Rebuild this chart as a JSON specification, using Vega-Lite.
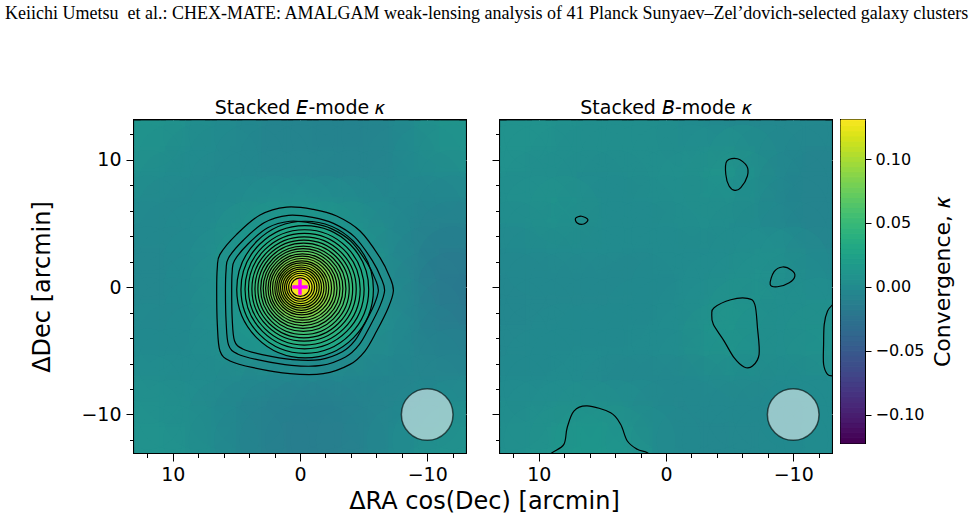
{
  "$schema": "https://vega.github.io/schema/vega-lite/v6.json",
  "background": "white",
  "padding": {"left": 5, "top": 4, "right": 5, "bottom": 5},
  "title": {
    "text": "Keiichi Umetsu\u00a0 et al.: CHEX-MATE: AMALGAM weak-lensing analysis of 41 Planck Sunyaev–Zel’dovich-selected galaxy clusters",
    "anchor": "start", "frame": "group", "font": "Liberation Serif", "fontSize": 18,
    "fontWeight": "normal", "color": "black", "offset": 75, "dx": -129
  },
  "datasets": {
    "grid": [
      {"p":"E","x":12,"y":12,"k":0.008},{"p":"E","x":10,"y":12,"k":0.005},{"p":"E","x":8,"y":12,"k":0.002},{"p":"E","x":6,"y":12,"k":0},{"p":"E","x":4,"y":12,"k":-0.003},{"p":"E","x":2,"y":12,"k":-0.006},{"p":"E","x":0,"y":12,"k":-0.008},{"p":"E","x":-2,"y":12,"k":-0.01},{"p":"E","x":-4,"y":12,"k":-0.01},{"p":"E","x":-6,"y":12,"k":-0.008},{"p":"E","x":-8,"y":12,"k":-0.003},{"p":"E","x":-10,"y":12,"k":0.003},{"p":"E","x":-12,"y":12,"k":0.008},
      {"p":"E","x":12,"y":10,"k":0.006},{"p":"E","x":10,"y":10,"k":0.003},{"p":"E","x":8,"y":10,"k":0},{"p":"E","x":6,"y":10,"k":-0.002},{"p":"E","x":4,"y":10,"k":-0.004},{"p":"E","x":2,"y":10,"k":-0.006},{"p":"E","x":0,"y":10,"k":-0.008},{"p":"E","x":-2,"y":10,"k":-0.009},{"p":"E","x":-4,"y":10,"k":-0.009},{"p":"E","x":-6,"y":10,"k":-0.007},{"p":"E","x":-8,"y":10,"k":-0.003},{"p":"E","x":-10,"y":10,"k":0.002},{"p":"E","x":-12,"y":10,"k":0.005},
      {"p":"E","x":12,"y":8,"k":0.003},{"p":"E","x":10,"y":8,"k":0},{"p":"E","x":8,"y":8,"k":-0.002},{"p":"E","x":6,"y":8,"k":-0.003},{"p":"E","x":4,"y":8,"k":-0.003},{"p":"E","x":2,"y":8,"k":-0.003},{"p":"E","x":0,"y":8,"k":-0.004},{"p":"E","x":-2,"y":8,"k":-0.005},{"p":"E","x":-4,"y":8,"k":-0.006},{"p":"E","x":-6,"y":8,"k":-0.006},{"p":"E","x":-8,"y":8,"k":-0.004},{"p":"E","x":-10,"y":8,"k":-0.002},{"p":"E","x":-12,"y":8,"k":0},
      {"p":"E","x":12,"y":6,"k":0},{"p":"E","x":10,"y":6,"k":-0.003},{"p":"E","x":8,"y":6,"k":-0.003},{"p":"E","x":6,"y":6,"k":-0.001},{"p":"E","x":4,"y":6,"k":0.002},{"p":"E","x":2,"y":6,"k":0.004},{"p":"E","x":0,"y":6,"k":0.005},{"p":"E","x":-2,"y":6,"k":0.004},{"p":"E","x":-4,"y":6,"k":0.001},{"p":"E","x":-6,"y":6,"k":-0.002},{"p":"E","x":-8,"y":6,"k":-0.005},{"p":"E","x":-10,"y":6,"k":-0.006},{"p":"E","x":-12,"y":6,"k":-0.006},
      {"p":"E","x":12,"y":4,"k":-0.003},{"p":"E","x":10,"y":4,"k":-0.004},{"p":"E","x":8,"y":4,"k":-0.002},{"p":"E","x":6,"y":4,"k":0.003},{"p":"E","x":4,"y":4,"k":0.008},{"p":"E","x":2,"y":4,"k":0.012},{"p":"E","x":0,"y":4,"k":0.013},{"p":"E","x":-2,"y":4,"k":0.012},{"p":"E","x":-4,"y":4,"k":0.008},{"p":"E","x":-6,"y":4,"k":0.002},{"p":"E","x":-8,"y":4,"k":-0.005},{"p":"E","x":-10,"y":4,"k":-0.009},{"p":"E","x":-12,"y":4,"k":-0.012},
      {"p":"E","x":12,"y":2,"k":-0.005},{"p":"E","x":10,"y":2,"k":-0.005},{"p":"E","x":8,"y":2,"k":0},{"p":"E","x":6,"y":2,"k":0.006},{"p":"E","x":4,"y":2,"k":0.014},{"p":"E","x":2,"y":2,"k":0.02},{"p":"E","x":0,"y":2,"k":0.022},{"p":"E","x":-2,"y":2,"k":0.02},{"p":"E","x":-4,"y":2,"k":0.014},{"p":"E","x":-6,"y":2,"k":0.005},{"p":"E","x":-8,"y":2,"k":-0.004},{"p":"E","x":-10,"y":2,"k":-0.012},{"p":"E","x":-12,"y":2,"k":-0.018},
      {"p":"E","x":12,"y":0,"k":-0.005},{"p":"E","x":10,"y":0,"k":-0.005},{"p":"E","x":8,"y":0,"k":0},{"p":"E","x":6,"y":0,"k":0.007},{"p":"E","x":4,"y":0,"k":0.016},{"p":"E","x":2,"y":0,"k":0.022},{"p":"E","x":0,"y":0,"k":0.025},{"p":"E","x":-2,"y":0,"k":0.022},{"p":"E","x":-4,"y":0,"k":0.016},{"p":"E","x":-6,"y":0,"k":0.007},{"p":"E","x":-8,"y":0,"k":-0.003},{"p":"E","x":-10,"y":0,"k":-0.013},{"p":"E","x":-12,"y":0,"k":-0.022},
      {"p":"E","x":12,"y":-2,"k":-0.004},{"p":"E","x":10,"y":-2,"k":-0.004},{"p":"E","x":8,"y":-2,"k":0},{"p":"E","x":6,"y":-2,"k":0.006},{"p":"E","x":4,"y":-2,"k":0.014},{"p":"E","x":2,"y":-2,"k":0.02},{"p":"E","x":0,"y":-2,"k":0.022},{"p":"E","x":-2,"y":-2,"k":0.02},{"p":"E","x":-4,"y":-2,"k":0.014},{"p":"E","x":-6,"y":-2,"k":0.006},{"p":"E","x":-8,"y":-2,"k":-0.002},{"p":"E","x":-10,"y":-2,"k":-0.012},{"p":"E","x":-12,"y":-2,"k":-0.02},
      {"p":"E","x":12,"y":-4,"k":-0.002},{"p":"E","x":10,"y":-4,"k":-0.003},{"p":"E","x":8,"y":-4,"k":0},{"p":"E","x":6,"y":-4,"k":0.004},{"p":"E","x":4,"y":-4,"k":0.009},{"p":"E","x":2,"y":-4,"k":0.012},{"p":"E","x":0,"y":-4,"k":0.013},{"p":"E","x":-2,"y":-4,"k":0.012},{"p":"E","x":-4,"y":-4,"k":0.009},{"p":"E","x":-6,"y":-4,"k":0.004},{"p":"E","x":-8,"y":-4,"k":-0.003},{"p":"E","x":-10,"y":-4,"k":-0.01},{"p":"E","x":-12,"y":-4,"k":-0.015},
      {"p":"E","x":12,"y":-6,"k":0},{"p":"E","x":10,"y":-6,"k":-0.001},{"p":"E","x":8,"y":-6,"k":0},{"p":"E","x":6,"y":-6,"k":0.002},{"p":"E","x":4,"y":-6,"k":0.004},{"p":"E","x":2,"y":-6,"k":0.005},{"p":"E","x":0,"y":-6,"k":0.005},{"p":"E","x":-2,"y":-6,"k":0.005},{"p":"E","x":-4,"y":-6,"k":0.003},{"p":"E","x":-6,"y":-6,"k":0},{"p":"E","x":-8,"y":-6,"k":-0.004},{"p":"E","x":-10,"y":-6,"k":-0.008},{"p":"E","x":-12,"y":-6,"k":-0.01},
      {"p":"E","x":12,"y":-8,"k":0.003},{"p":"E","x":10,"y":-8,"k":0.002},{"p":"E","x":8,"y":-8,"k":0},{"p":"E","x":6,"y":-8,"k":-0.002},{"p":"E","x":4,"y":-8,"k":-0.004},{"p":"E","x":2,"y":-8,"k":-0.006},{"p":"E","x":0,"y":-8,"k":-0.008},{"p":"E","x":-2,"y":-8,"k":-0.009},{"p":"E","x":-4,"y":-8,"k":-0.009},{"p":"E","x":-6,"y":-8,"k":-0.008},{"p":"E","x":-8,"y":-8,"k":-0.006},{"p":"E","x":-10,"y":-8,"k":-0.004},{"p":"E","x":-12,"y":-8,"k":-0.003},
      {"p":"E","x":12,"y":-10,"k":0.005},{"p":"E","x":10,"y":-10,"k":0.004},{"p":"E","x":8,"y":-10,"k":0.002},{"p":"E","x":6,"y":-10,"k":-0.003},{"p":"E","x":4,"y":-10,"k":-0.008},{"p":"E","x":2,"y":-10,"k":-0.012},{"p":"E","x":0,"y":-10,"k":-0.014},{"p":"E","x":-2,"y":-10,"k":-0.014},{"p":"E","x":-4,"y":-10,"k":-0.012},{"p":"E","x":-6,"y":-10,"k":-0.008},{"p":"E","x":-8,"y":-10,"k":-0.004},{"p":"E","x":-10,"y":-10,"k":0},{"p":"E","x":-12,"y":-10,"k":0.003},
      {"p":"E","x":12,"y":-12,"k":0.006},{"p":"E","x":10,"y":-12,"k":0.005},{"p":"E","x":8,"y":-12,"k":0.003},{"p":"E","x":6,"y":-12,"k":-0.002},{"p":"E","x":4,"y":-12,"k":-0.008},{"p":"E","x":2,"y":-12,"k":-0.012},{"p":"E","x":0,"y":-12,"k":-0.015},{"p":"E","x":-2,"y":-12,"k":-0.015},{"p":"E","x":-4,"y":-12,"k":-0.012},{"p":"E","x":-6,"y":-12,"k":-0.007},{"p":"E","x":-8,"y":-12,"k":-0.002},{"p":"E","x":-10,"y":-12,"k":0.003},{"p":"E","x":-12,"y":-12,"k":0.006},

      {"p":"B","x":12,"y":12,"k":0.006},{"p":"B","x":10,"y":12,"k":0.005},{"p":"B","x":8,"y":12,"k":0.004},{"p":"B","x":6,"y":12,"k":0.003},{"p":"B","x":4,"y":12,"k":0.002},{"p":"B","x":2,"y":12,"k":0.002},{"p":"B","x":0,"y":12,"k":0.002},{"p":"B","x":-2,"y":12,"k":0},{"p":"B","x":-4,"y":12,"k":-0.002},{"p":"B","x":-6,"y":12,"k":-0.003},{"p":"B","x":-8,"y":12,"k":-0.004},{"p":"B","x":-10,"y":12,"k":-0.004},{"p":"B","x":-12,"y":12,"k":-0.004},
      {"p":"B","x":12,"y":10,"k":0.005},{"p":"B","x":10,"y":10,"k":0.004},{"p":"B","x":8,"y":10,"k":0.003},{"p":"B","x":6,"y":10,"k":0.002},{"p":"B","x":4,"y":10,"k":0.001},{"p":"B","x":2,"y":10,"k":0.001},{"p":"B","x":0,"y":10,"k":0.002},{"p":"B","x":-2,"y":10,"k":0.003},{"p":"B","x":-4,"y":10,"k":0.006},{"p":"B","x":-6,"y":10,"k":0.008},{"p":"B","x":-8,"y":10,"k":0},{"p":"B","x":-10,"y":10,"k":-0.005},{"p":"B","x":-12,"y":10,"k":-0.006},
      {"p":"B","x":12,"y":8,"k":0.003},{"p":"B","x":10,"y":8,"k":0.002},{"p":"B","x":8,"y":8,"k":0.001},{"p":"B","x":6,"y":8,"k":0},{"p":"B","x":4,"y":8,"k":0},{"p":"B","x":2,"y":8,"k":0.001},{"p":"B","x":0,"y":8,"k":0.002},{"p":"B","x":-2,"y":8,"k":0.004},{"p":"B","x":-4,"y":8,"k":0.007},{"p":"B","x":-6,"y":8,"k":0.008},{"p":"B","x":-8,"y":8,"k":0},{"p":"B","x":-10,"y":8,"k":-0.006},{"p":"B","x":-12,"y":8,"k":-0.008},
      {"p":"B","x":12,"y":6,"k":0.001},{"p":"B","x":10,"y":6,"k":0.004},{"p":"B","x":8,"y":6,"k":0.008},{"p":"B","x":6,"y":6,"k":0.003},{"p":"B","x":4,"y":6,"k":0},{"p":"B","x":2,"y":6,"k":0},{"p":"B","x":0,"y":6,"k":0.001},{"p":"B","x":-2,"y":6,"k":0.002},{"p":"B","x":-4,"y":6,"k":0.003},{"p":"B","x":-6,"y":6,"k":0.002},{"p":"B","x":-8,"y":6,"k":-0.002},{"p":"B","x":-10,"y":6,"k":-0.006},{"p":"B","x":-12,"y":6,"k":-0.009},
      {"p":"B","x":12,"y":4,"k":0},{"p":"B","x":10,"y":4,"k":0.002},{"p":"B","x":8,"y":4,"k":0.003},{"p":"B","x":6,"y":4,"k":0.001},{"p":"B","x":4,"y":4,"k":0},{"p":"B","x":2,"y":4,"k":-0.001},{"p":"B","x":0,"y":4,"k":0},{"p":"B","x":-2,"y":4,"k":0.001},{"p":"B","x":-4,"y":4,"k":0.001},{"p":"B","x":-6,"y":4,"k":0},{"p":"B","x":-8,"y":4,"k":0},{"p":"B","x":-10,"y":4,"k":-0.003},{"p":"B","x":-12,"y":4,"k":-0.007},
      {"p":"B","x":12,"y":2,"k":-0.003},{"p":"B","x":10,"y":2,"k":-0.002},{"p":"B","x":8,"y":2,"k":-0.001},{"p":"B","x":6,"y":2,"k":-0.001},{"p":"B","x":4,"y":2,"k":-0.002},{"p":"B","x":2,"y":2,"k":-0.002},{"p":"B","x":0,"y":2,"k":-0.001},{"p":"B","x":-2,"y":2,"k":0},{"p":"B","x":-4,"y":2,"k":0},{"p":"B","x":-6,"y":2,"k":0.002},{"p":"B","x":-8,"y":2,"k":0.006},{"p":"B","x":-10,"y":2,"k":0.004},{"p":"B","x":-12,"y":2,"k":-0.003},
      {"p":"B","x":12,"y":0,"k":-0.005},{"p":"B","x":10,"y":0,"k":-0.004},{"p":"B","x":8,"y":0,"k":-0.003},{"p":"B","x":6,"y":0,"k":-0.003},{"p":"B","x":4,"y":0,"k":-0.003},{"p":"B","x":2,"y":0,"k":-0.003},{"p":"B","x":0,"y":0,"k":-0.002},{"p":"B","x":-2,"y":0,"k":-0.001},{"p":"B","x":-4,"y":0,"k":0.001},{"p":"B","x":-6,"y":0,"k":0.004},{"p":"B","x":-8,"y":0,"k":0.006},{"p":"B","x":-10,"y":0,"k":0.003},{"p":"B","x":-12,"y":0,"k":0},
      {"p":"B","x":12,"y":-2,"k":-0.005},{"p":"B","x":10,"y":-2,"k":-0.004},{"p":"B","x":8,"y":-2,"k":-0.003},{"p":"B","x":6,"y":-2,"k":-0.003},{"p":"B","x":4,"y":-2,"k":-0.003},{"p":"B","x":2,"y":-2,"k":-0.002},{"p":"B","x":0,"y":-2,"k":-0.001},{"p":"B","x":-2,"y":-2,"k":0.002},{"p":"B","x":-4,"y":-2,"k":0.006},{"p":"B","x":-6,"y":-2,"k":0.008},{"p":"B","x":-8,"y":-2,"k":0.003},{"p":"B","x":-10,"y":-2,"k":0.002},{"p":"B","x":-12,"y":-2,"k":0.004},
      {"p":"B","x":12,"y":-4,"k":-0.004},{"p":"B","x":10,"y":-4,"k":-0.003},{"p":"B","x":8,"y":-4,"k":-0.002},{"p":"B","x":6,"y":-4,"k":-0.002},{"p":"B","x":4,"y":-4,"k":-0.002},{"p":"B","x":2,"y":-4,"k":-0.001},{"p":"B","x":0,"y":-4,"k":0},{"p":"B","x":-2,"y":-4,"k":0.003},{"p":"B","x":-4,"y":-4,"k":0.008},{"p":"B","x":-6,"y":-4,"k":0.009},{"p":"B","x":-8,"y":-4,"k":0.003},{"p":"B","x":-10,"y":-4,"k":0.002},{"p":"B","x":-12,"y":-4,"k":0.007},
      {"p":"B","x":12,"y":-6,"k":-0.003},{"p":"B","x":10,"y":-6,"k":-0.002},{"p":"B","x":8,"y":-6,"k":-0.001},{"p":"B","x":6,"y":-6,"k":-0.001},{"p":"B","x":4,"y":-6,"k":-0.002},{"p":"B","x":2,"y":-6,"k":-0.002},{"p":"B","x":0,"y":-6,"k":-0.001},{"p":"B","x":-2,"y":-6,"k":0.001},{"p":"B","x":-4,"y":-6,"k":0.005},{"p":"B","x":-6,"y":-6,"k":0.007},{"p":"B","x":-8,"y":-6,"k":0.002},{"p":"B","x":-10,"y":-6,"k":0.001},{"p":"B","x":-12,"y":-6,"k":0.006},
      {"p":"B","x":12,"y":-8,"k":-0.001},{"p":"B","x":10,"y":-8,"k":0},{"p":"B","x":8,"y":-8,"k":0},{"p":"B","x":6,"y":-8,"k":-0.001},{"p":"B","x":4,"y":-8,"k":-0.003},{"p":"B","x":2,"y":-8,"k":-0.004},{"p":"B","x":0,"y":-8,"k":-0.004},{"p":"B","x":-2,"y":-8,"k":-0.003},{"p":"B","x":-4,"y":-8,"k":-0.002},{"p":"B","x":-6,"y":-8,"k":-0.001},{"p":"B","x":-8,"y":-8,"k":-0.002},{"p":"B","x":-10,"y":-8,"k":-0.002},{"p":"B","x":-12,"y":-8,"k":0},
      {"p":"B","x":12,"y":-10,"k":0.002},{"p":"B","x":10,"y":-10,"k":0.003},{"p":"B","x":8,"y":-10,"k":0.005},{"p":"B","x":6,"y":-10,"k":0.007},{"p":"B","x":4,"y":-10,"k":0.006},{"p":"B","x":2,"y":-10,"k":0.002},{"p":"B","x":0,"y":-10,"k":-0.003},{"p":"B","x":-2,"y":-10,"k":-0.005},{"p":"B","x":-4,"y":-10,"k":-0.005},{"p":"B","x":-6,"y":-10,"k":-0.004},{"p":"B","x":-8,"y":-10,"k":-0.003},{"p":"B","x":-10,"y":-10,"k":-0.002},{"p":"B","x":-12,"y":-10,"k":0},
      {"p":"B","x":12,"y":-12,"k":0.003},{"p":"B","x":10,"y":-12,"k":0.005},{"p":"B","x":8,"y":-12,"k":0.009},{"p":"B","x":6,"y":-12,"k":0.012},{"p":"B","x":4,"y":-12,"k":0.01},{"p":"B","x":2,"y":-12,"k":0.005},{"p":"B","x":0,"y":-12,"k":-0.002},{"p":"B","x":-2,"y":-12,"k":-0.005},{"p":"B","x":-4,"y":-12,"k":-0.005},{"p":"B","x":-6,"y":-12,"k":-0.004},{"p":"B","x":-8,"y":-12,"k":-0.003},{"p":"B","x":-10,"y":-12,"k":-0.002},{"p":"B","x":-12,"y":-12,"k":0}
    ],
    "rings": [
      {"x":-0.4,"y":-0.2,"r":5.37,"k":0.0225},
      {"x":-0.38,"y":-0.19,"r":5.02,"k":0.0275},
      {"x":-0.36,"y":-0.18,"r":4.68,"k":0.0325},
      {"x":-0.34,"y":-0.17,"r":4.39,"k":0.0375},
      {"x":-0.32,"y":-0.16,"r":4.1,"k":0.0425},
      {"x":-0.3,"y":-0.15,"r":3.84,"k":0.0475},
      {"x":-0.28,"y":-0.14,"r":3.59,"k":0.0525},
      {"x":-0.26,"y":-0.13,"r":3.35,"k":0.0575},
      {"x":-0.24,"y":-0.12,"r":3.13,"k":0.0625},
      {"x":-0.22,"y":-0.11,"r":2.92,"k":0.0675},
      {"x":-0.2,"y":-0.1,"r":2.71,"k":0.0725},
      {"x":-0.18,"y":-0.09,"r":2.52,"k":0.0775},
      {"x":-0.16,"y":-0.08,"r":2.32,"k":0.0825},
      {"x":-0.14,"y":-0.07,"r":2.12,"k":0.0875},
      {"x":-0.12,"y":-0.06,"r":1.95,"k":0.0925},
      {"x":-0.1,"y":-0.05,"r":1.78,"k":0.0975},
      {"x":-0.08,"y":-0.04,"r":1.61,"k":0.1025},
      {"x":-0.07,"y":-0.035,"r":1.44,"k":0.1075},
      {"x":-0.06,"y":-0.03,"r":1.27,"k":0.1125},
      {"x":-0.04,"y":-0.02,"r":1.1,"k":0.1175},
      {"x":-0.03,"y":-0.015,"r":0.92,"k":0.1225},
      {"x":-0.02,"y":-0.01,"r":0.73,"k":0.128}
    ],
    "paths": [
      {"p":"E","c":1,"o":1,"x":6.5,"y":1.52},{"p":"E","c":1,"o":2,"x":6.29,"y":2.56},{"p":"E","c":1,"o":3,"x":4.98,"y":4.13},{"p":"E","c":1,"o":4,"x":3.14,"y":5.65},{"p":"E","c":1,"o":5,"x":1.05,"y":6.27},{"p":"E","c":1,"o":6,"x":-1.05,"y":6.09},{"p":"E","c":1,"o":7,"x":-2.88,"y":5.57},{"p":"E","c":1,"o":8,"x":-4.72,"y":4.39},{"p":"E","c":1,"o":9,"x":-6.29,"y":2.3},{"p":"E","c":1,"o":10,"x":-7.08,"y":0.73},{"p":"E","c":1,"o":11,"x":-7.34,"y":-0.31},{"p":"E","c":1,"o":12,"x":-6.94,"y":-1.62},{"p":"E","c":1,"o":13,"x":-6.03,"y":-3.45},{"p":"E","c":1,"o":14,"x":-5.11,"y":-5.02},{"p":"E","c":1,"o":15,"x":-3.93,"y":-6.07},{"p":"E","c":1,"o":16,"x":-1.83,"y":-6.8},{"p":"E","c":1,"o":17,"x":0.79,"y":-6.8},{"p":"E","c":1,"o":18,"x":3.67,"y":-6.33},{"p":"E","c":1,"o":19,"x":5.5,"y":-5.8},{"p":"E","c":1,"o":20,"x":6.29,"y":-5.02},{"p":"E","c":1,"o":21,"x":6.5,"y":-2.93},{"p":"E","c":1,"o":22,"x":6.55,"y":-0.31},
      {"p":"E","c":2,"o":1,"x":5.81,"y":1.34},{"p":"E","c":2,"o":2,"x":5.62,"y":2.28},{"p":"E","c":2,"o":3,"x":4.44,"y":3.69},{"p":"E","c":2,"o":4,"x":2.79,"y":5.06},{"p":"E","c":2,"o":5,"x":0.91,"y":5.62},{"p":"E","c":2,"o":6,"x":-0.99,"y":5.46},{"p":"E","c":2,"o":7,"x":-2.63,"y":4.99},{"p":"E","c":2,"o":8,"x":-4.29,"y":3.93},{"p":"E","c":2,"o":9,"x":-5.7,"y":2.05},{"p":"E","c":2,"o":10,"x":-6.41,"y":0.63},{"p":"E","c":2,"o":11,"x":-6.65,"y":-0.3},{"p":"E","c":2,"o":12,"x":-6.29,"y":-1.48},{"p":"E","c":2,"o":13,"x":-5.47,"y":-3.13},{"p":"E","c":2,"o":14,"x":-4.64,"y":-4.54},{"p":"E","c":2,"o":15,"x":-3.58,"y":-5.49},{"p":"E","c":2,"o":16,"x":-1.69,"y":-6.15},{"p":"E","c":2,"o":17,"x":0.67,"y":-6.15},{"p":"E","c":2,"o":18,"x":3.26,"y":-5.72},{"p":"E","c":2,"o":19,"x":4.91,"y":-5.25},{"p":"E","c":2,"o":20,"x":5.62,"y":-4.54},{"p":"E","c":2,"o":21,"x":5.81,"y":-2.66},{"p":"E","c":2,"o":22,"x":5.86,"y":-0.3},
      {"p":"E","c":3,"o":1,"x":5.33,"y":1.22},{"p":"E","c":3,"o":2,"x":5.15,"y":2.08},{"p":"E","c":3,"o":3,"x":4.07,"y":3.39},{"p":"E","c":3,"o":4,"x":2.54,"y":4.65},{"p":"E","c":3,"o":5,"x":0.8,"y":5.16},{"p":"E","c":3,"o":6,"x":-0.94,"y":5.01},{"p":"E","c":3,"o":7,"x":-2.46,"y":4.58},{"p":"E","c":3,"o":8,"x":-3.99,"y":3.6},{"p":"E","c":3,"o":9,"x":-5.29,"y":1.87},{"p":"E","c":3,"o":10,"x":-5.94,"y":0.56},{"p":"E","c":3,"o":11,"x":-6.16,"y":-0.3},{"p":"E","c":3,"o":12,"x":-5.83,"y":-1.39},{"p":"E","c":3,"o":13,"x":-5.07,"y":-2.91},{"p":"E","c":3,"o":14,"x":-4.31,"y":-4.21},{"p":"E","c":3,"o":15,"x":-3.33,"y":-5.08},{"p":"E","c":3,"o":16,"x":-1.59,"y":-5.69},{"p":"E","c":3,"o":17,"x":0.59,"y":-5.69},{"p":"E","c":3,"o":18,"x":2.98,"y":-5.3},{"p":"E","c":3,"o":19,"x":4.5,"y":-4.86},{"p":"E","c":3,"o":20,"x":5.15,"y":-4.21},{"p":"E","c":3,"o":21,"x":5.33,"y":-2.47},{"p":"E","c":3,"o":22,"x":5.37,"y":-0.3},
      {"p":"B","c":11,"o":1,"x":-4.78,"y":9.88},{"p":"B","c":11,"o":2,"x":-5.62,"y":10.06},{"p":"B","c":11,"o":3,"x":-6.35,"y":9.49},{"p":"B","c":11,"o":4,"x":-6.4,"y":8.71},{"p":"B","c":11,"o":5,"x":-5.88,"y":7.79},{"p":"B","c":11,"o":6,"x":-5.41,"y":7.58},{"p":"B","c":11,"o":7,"x":-4.96,"y":7.92},{"p":"B","c":11,"o":8,"x":-4.7,"y":8.84},
      {"p":"B","c":12,"o":1,"x":7.11,"y":5.39},{"p":"B","c":12,"o":2,"x":6.64,"y":5.55},{"p":"B","c":12,"o":3,"x":6.14,"y":5.28},{"p":"B","c":12,"o":4,"x":6.46,"y":4.94},{"p":"B","c":12,"o":5,"x":6.98,"y":5.02},
      {"p":"B","c":13,"o":1,"x":-8.19,"y":0.21},{"p":"B","c":13,"o":2,"x":-8.5,"y":1.2},{"p":"B","c":13,"o":3,"x":-9.16,"y":1.57},{"p":"B","c":13,"o":4,"x":-9.87,"y":1.31},{"p":"B","c":13,"o":5,"x":-10.13,"y":0.86},{"p":"B","c":13,"o":6,"x":-9.69,"y":0.34},{"p":"B","c":13,"o":7,"x":-8.76,"y":0.02},
      {"p":"B","c":14,"o":1,"x":-3.78,"y":-1.62},{"p":"B","c":14,"o":2,"x":-5.09,"y":-1.0},{"p":"B","c":14,"o":3,"x":-6.4,"y":-0.89},{"p":"B","c":14,"o":4,"x":-6.98,"y":-1.36},{"p":"B","c":14,"o":5,"x":-7.19,"y":-3.19},{"p":"B","c":14,"o":6,"x":-7.32,"y":-5.28},{"p":"B","c":14,"o":7,"x":-6.8,"y":-6.2},{"p":"B","c":14,"o":8,"x":-6.14,"y":-6.27},{"p":"B","c":14,"o":9,"x":-5.35,"y":-5.54},{"p":"B","c":14,"o":10,"x":-4.57,"y":-4.24},{"p":"B","c":14,"o":11,"x":-3.72,"y":-2.93},{"p":"B","c":14,"o":12,"x":-3.6,"y":-2.14},
      {"p":"B","c":21,"o":1,"x":-13.6,"y":-0.9},{"p":"B","c":21,"o":2,"x":-13.17,"y":-1.31},{"p":"B","c":21,"o":3,"x":-12.7,"y":-1.88},{"p":"B","c":21,"o":4,"x":-12.44,"y":-2.93},{"p":"B","c":21,"o":5,"x":-12.39,"y":-4.49},{"p":"B","c":21,"o":6,"x":-12.39,"y":-6.06},{"p":"B","c":21,"o":7,"x":-12.7,"y":-6.85},{"p":"B","c":21,"o":8,"x":-13.17,"y":-6.98},{"p":"B","c":21,"o":9,"x":-13.6,"y":-7.0},
      {"p":"B","c":22,"o":1,"x":9.4,"y":-13.5},{"p":"B","c":22,"o":2,"x":8.95,"y":-13.0},{"p":"B","c":22,"o":3,"x":8.03,"y":-12.34},{"p":"B","c":22,"o":4,"x":7.77,"y":-11.04},{"p":"B","c":22,"o":5,"x":7.24,"y":-9.73},{"p":"B","c":22,"o":6,"x":6.2,"y":-9.33},{"p":"B","c":22,"o":7,"x":4.35,"y":-9.86},{"p":"B","c":22,"o":8,"x":3.57,"y":-10.77},{"p":"B","c":22,"o":9,"x":3.04,"y":-12.08},{"p":"B","c":22,"o":10,"x":2.26,"y":-12.73},{"p":"B","c":22,"o":11,"x":1.47,"y":-13.0},{"p":"B","c":22,"o":12,"x":1.0,"y":-13.5}
    ],
    "beam": [{"x":-10,"y":-10,"r":2.03}],
    "centre": [{"x":0,"y":0}],
    "cbar": [
      {"lo":-0.122,"hi":-0.118},{"lo":-0.118,"hi":-0.114},{"lo":-0.114,"hi":-0.11},{"lo":-0.11,"hi":-0.106},{"lo":-0.106,"hi":-0.102},{"lo":-0.102,"hi":-0.098},{"lo":-0.098,"hi":-0.094},{"lo":-0.094,"hi":-0.09},{"lo":-0.09,"hi":-0.086},{"lo":-0.086,"hi":-0.082},{"lo":-0.082,"hi":-0.078},{"lo":-0.078,"hi":-0.074},{"lo":-0.074,"hi":-0.07},{"lo":-0.07,"hi":-0.066},{"lo":-0.066,"hi":-0.062},{"lo":-0.062,"hi":-0.058},{"lo":-0.058,"hi":-0.054},{"lo":-0.054,"hi":-0.05},{"lo":-0.05,"hi":-0.046},{"lo":-0.046,"hi":-0.042},{"lo":-0.042,"hi":-0.038},{"lo":-0.038,"hi":-0.034},{"lo":-0.034,"hi":-0.03},{"lo":-0.03,"hi":-0.026},{"lo":-0.026,"hi":-0.022},{"lo":-0.022,"hi":-0.018},{"lo":-0.018,"hi":-0.014},{"lo":-0.014,"hi":-0.01},{"lo":-0.01,"hi":-0.006},{"lo":-0.006,"hi":-0.002},{"lo":-0.002,"hi":0.002},{"lo":0.002,"hi":0.006},{"lo":0.006,"hi":0.01},{"lo":0.01,"hi":0.014},{"lo":0.014,"hi":0.018},{"lo":0.018,"hi":0.022},{"lo":0.022,"hi":0.026},{"lo":0.026,"hi":0.03},{"lo":0.03,"hi":0.034},{"lo":0.034,"hi":0.038},{"lo":0.038,"hi":0.042},{"lo":0.042,"hi":0.046},{"lo":0.046,"hi":0.05},{"lo":0.05,"hi":0.054},{"lo":0.054,"hi":0.058},{"lo":0.058,"hi":0.062},{"lo":0.062,"hi":0.066},{"lo":0.066,"hi":0.07},{"lo":0.07,"hi":0.074},{"lo":0.074,"hi":0.078},{"lo":0.078,"hi":0.082},{"lo":0.082,"hi":0.086},{"lo":0.086,"hi":0.09},{"lo":0.09,"hi":0.094},{"lo":0.094,"hi":0.098},{"lo":0.098,"hi":0.102},{"lo":0.102,"hi":0.106},{"lo":0.106,"hi":0.11},{"lo":0.11,"hi":0.114},{"lo":0.114,"hi":0.118},{"lo":0.118,"hi":0.122},{"lo":0.122,"hi":0.126},{"lo":0.126,"hi":0.13},{"lo":0.13,"hi":0.1305}
    ]
  },
  "spacing": 6,
  "hconcat": [
    {
      "spacing": 23,
      "title": {"text": "ΔRA cos(Dec) [arcmin]", "orient": "bottom", "anchor": "middle", "frame": "bounds", "fontSize": 24, "offset": 5, "dx": 53},
      "hconcat": [
        {
          "width": 332, "height": 333,
          "title": {"text": "Stacked 𝘌-mode 𝜅", "offset": 2},
          "encoding": {
            "x": {"field": "x", "type": "quantitative", "scale": {"domain": [-13.05, 13.05], "reverse": true, "nice": false, "zero": false},
              "axis": {"title": null, "labelPadding": 4,
                "values": [12, 10, 8, 6, 4, 2, 0, -2, -4, -6, -8, -10, -12],
                "labelExpr": "datum.value % 10 === 0 ? datum.label : ''",
                "tickSize": {"condition": {"test": "datum.value % 10 === 0", "value": 8}, "value": 4.5},
                "gridOpacity": {"condition": {"test": "datum.value % 10 === 0", "value": 1}, "value": 0}}},
            "y": {"field": "y", "type": "quantitative", "scale": {"domain": [-13.02, 13.1], "nice": false, "zero": false},
              "axis": {"title": "ΔDec [arcmin]", "titlePadding": 26, "labelPadding": 5,
                "values": [12, 10, 8, 6, 4, 2, 0, -2, -4, -6, -8, -10, -12],
                "labelExpr": "datum.value % 10 === 0 ? datum.label : ''",
                "tickSize": {"condition": {"test": "datum.value % 10 === 0", "value": 8}, "value": 4.5},
                "gridOpacity": {"condition": {"test": "datum.value % 10 === 0", "value": 1}, "value": 0}}}
          },
          "layer": [
            {
              "data": {"name": "grid"},
              "transform": [{"filter": "datum.p === 'E'"}],
              "mark": {"type": "point", "shape": "square", "filled": true, "size": 700, "opacity": 1, "strokeWidth": 0, "clip": true},
              "encoding": {
                "color": {"field": "k", "type": "quantitative", "scale": {"scheme": "viridis", "domain": [-0.122, 0.1305]}, "legend": null}
              }
            },
            {
              "data": {"name": "grid"},
              "transform": [{"filter": "datum.p === 'E'"}],
              "mark": {"type": "point", "shape": "circle", "filled": true, "size": 4900, "opacity": 0.3, "strokeWidth": 0, "clip": true},
              "encoding": {
                "color": {"field": "k", "type": "quantitative", "legend": null}
              }
            },
            {
              "data": {"name": "rings"},
              "mark": {"type": "point", "shape": "circle", "filled": true, "opacity": 1, "stroke": "black", "strokeWidth": 1.2, "clip": true},
              "encoding": {
                "size": {"field": "r", "type": "quantitative", "scale": {"type": "pow", "exponent": 2, "domain": [0, 10], "range": [0, 64770]}, "legend": null},
                "color": {"field": "k", "type": "quantitative", "legend": null}
              }
            },
            {
              "data": {"name": "paths"},
              "transform": [{"filter": "datum.p === 'E'"}],
              "mark": {"type": "line", "interpolate": "cardinal-closed", "color": "black", "strokeWidth": 1.2, "clip": true},
              "encoding": {
                "detail": {"field": "c"},
                "order": {"field": "o", "type": "quantitative"}
              }
            },
            {
              "data": {"name": "beam"},
              "mark": {"type": "point", "shape": "circle", "filled": true, "fill": "white", "fillOpacity": 0.53, "stroke": "black", "strokeOpacity": 0.6, "strokeWidth": 1.5, "opacity": 1},
              "encoding": {
                "size": {"field": "r", "type": "quantitative", "legend": null}
              }
            },
            {
              "data": {"name": "centre"},
              "mark": {"type": "point", "shape": "M-1,0L1,0M0,-1L0,1", "filled": false, "stroke": "#ff00ff", "strokeWidth": 3.5, "size": 240, "opacity": 1},
              "encoding": {}
            }
          ]
        },
        {
          "width": 332, "height": 333,
          "title": {"text": "Stacked 𝘉-mode 𝜅", "offset": 2},
          "encoding": {
            "x": {"field": "x", "type": "quantitative", "scale": {"domain": [-13.05, 13.05], "reverse": true, "nice": false, "zero": false},
              "axis": {"title": null, "labelPadding": 4,
                "values": [12, 10, 8, 6, 4, 2, 0, -2, -4, -6, -8, -10, -12],
                "labelExpr": "datum.value % 10 === 0 ? datum.label : ''",
                "tickSize": {"condition": {"test": "datum.value % 10 === 0", "value": 8}, "value": 4.5},
                "gridOpacity": {"condition": {"test": "datum.value % 10 === 0", "value": 1}, "value": 0}}},
            "y": {"field": "y", "type": "quantitative", "scale": {"domain": [-13.02, 13.1], "nice": false, "zero": false},
              "axis": {"title": null, "labels": false,
                "values": [12, 10, 8, 6, 4, 2, 0, -2, -4, -6, -8, -10, -12],
                "tickSize": {"condition": {"test": "datum.value % 10 === 0", "value": 8}, "value": 4.5},
                "gridOpacity": {"condition": {"test": "datum.value % 10 === 0", "value": 1}, "value": 0}}}
          },
          "layer": [
            {
              "data": {"name": "grid"},
              "transform": [{"filter": "datum.p === 'B'"}],
              "mark": {"type": "point", "shape": "square", "filled": true, "size": 700, "opacity": 1, "strokeWidth": 0, "clip": true},
              "encoding": {
                "color": {"field": "k", "type": "quantitative", "scale": {"scheme": "viridis", "domain": [-0.122, 0.1305]}, "legend": null}
              }
            },
            {
              "data": {"name": "grid"},
              "transform": [{"filter": "datum.p === 'B'"}],
              "mark": {"type": "point", "shape": "circle", "filled": true, "size": 4900, "opacity": 0.3, "strokeWidth": 0, "clip": true},
              "encoding": {
                "color": {"field": "k", "type": "quantitative", "legend": null}
              }
            },
            {
              "data": {"name": "paths"},
              "transform": [{"filter": "datum.p === 'B' && datum.c < 20"}],
              "mark": {"type": "line", "interpolate": "cardinal-closed", "color": "black", "strokeWidth": 1.2, "clip": true},
              "encoding": {
                "detail": {"field": "c"},
                "order": {"field": "o", "type": "quantitative"}
              }
            },
            {
              "data": {"name": "paths"},
              "transform": [{"filter": "datum.p === 'B' && datum.c > 20"}],
              "mark": {"type": "line", "interpolate": "cardinal", "color": "black", "strokeWidth": 1.2, "clip": true},
              "encoding": {
                "detail": {"field": "c"},
                "order": {"field": "o", "type": "quantitative"}
              }
            },
            {
              "data": {"name": "beam"},
              "mark": {"type": "point", "shape": "circle", "filled": true, "fill": "white", "fillOpacity": 0.53, "stroke": "black", "strokeOpacity": 0.6, "strokeWidth": 1.5, "opacity": 1},
              "encoding": {
                "size": {"field": "r", "type": "quantitative", "scale": {"type": "pow", "exponent": 2, "domain": [0, 10], "range": [0, 64770]}, "legend": null}
              }
            }
          ]
        }
      ]
    },
    {
      "width": 24, "height": 323,
      "title": {"text": " ", "offset": 2},
      "data": {"name": "cbar"},
      "mark": {"type": "rect", "strokeWidth": 1},
      "encoding": {
        "y": {"field": "lo", "type": "quantitative", "scale": {"domain": [-0.122, 0.1305], "nice": false, "zero": false},
          "axis": {"orient": "right", "grid": false, "zindex": 1, "values": [-0.1, -0.05, 0, 0.05, 0.1], "format": ".2f",
            "tickSize": 6, "labelFontSize": 16, "labelPadding": 4,
            "title": "Convergence, 𝜅", "titleFontSize": 22, "titleAngle": 270, "titleBaseline": "top", "titlePadding": 8}},
        "y2": {"field": "hi"},
        "color": {"field": "lo", "type": "quantitative", "scale": {"scheme": "viridis", "domain": [-0.122, 0.1305]}, "legend": null},
        "stroke": {"field": "lo", "type": "quantitative", "scale": {"scheme": "viridis", "domain": [-0.122, 0.1305]}, "legend": null}
      }
    }
  ],
  "config": {
    "font": "DejaVu Sans",
    "view": {"stroke": "black", "strokeWidth": 2},
    "axis": {"domain": true, "domainColor": "black", "domainWidth": 1, "tickColor": "black", "tickWidth": 1,
      "labelColor": "black", "titleColor": "black", "labelFont": "DejaVu Sans", "titleFont": "DejaVu Sans",
      "labelFontSize": 19, "titleFontSize": 24, "titleFontWeight": "normal",
      "grid": true, "gridColor": "#b8b8b8", "gridDash": [4.5, 2.5], "gridWidth": 1, "zindex": 1,
      "labelFlush": false, "labelOverlap": false},
    "title": {"font": "DejaVu Sans", "fontSize": 19, "fontWeight": "normal", "color": "black"}
  }
}
